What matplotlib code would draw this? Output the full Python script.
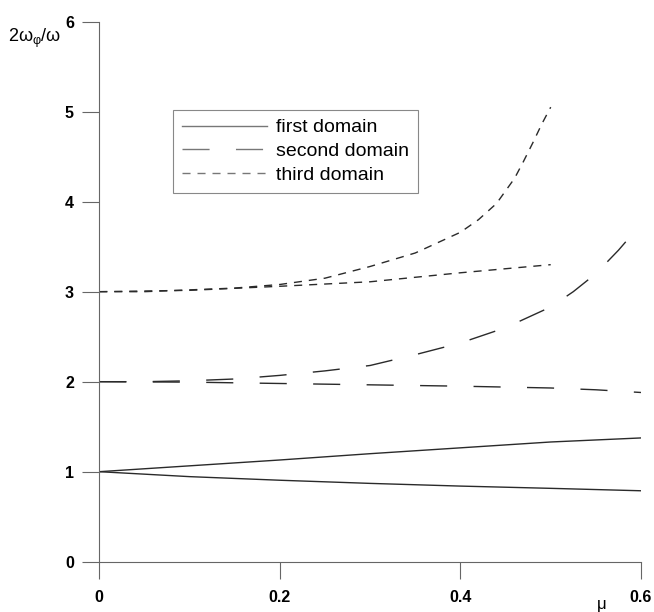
import matplotlib

matplotlib.use("Agg")
import matplotlib.pyplot as plt
from matplotlib.lines import Line2D

plt.rcParams["font.family"] = ["Liberation Sans", "DejaVu Sans"]
plt.rcParams["mathtext.fontset"] = "custom"
plt.rcParams["mathtext.rm"] = "Liberation Sans"
plt.rcParams["mathtext.it"] = "Liberation Sans"

# first domain (two branches from 1)
first_mu = [0.0, 0.1, 0.2, 0.3, 0.4, 0.5, 0.6]
first_upper = [1.0, 1.065, 1.13, 1.20, 1.265, 1.33, 1.375]
first_lower = [1.0, 0.945, 0.905, 0.87, 0.84, 0.815, 0.788]

# second domain (two branches from 2)
second_up_mu = [0.0, 0.05, 0.1, 0.15, 0.2, 0.25, 0.3, 0.35, 0.4, 0.45, 0.5,
                0.525, 0.55, 0.575, 0.6]
second_upper = [2.0, 2.0, 2.01, 2.03, 2.07, 2.12, 2.18, 2.30, 2.43, 2.60, 2.83,
                3.0, 3.2, 3.46, 3.75]
second_lo_mu = [0.0, 0.1, 0.2, 0.3, 0.4, 0.5, 0.55, 0.6]
second_lower = [2.0, 1.995, 1.98, 1.965, 1.95, 1.93, 1.91, 1.88]

# third domain (two branches from 3)
third_up_mu = [0.0, 0.05, 0.1, 0.15, 0.2, 0.25, 0.3, 0.35, 0.4, 0.42, 0.44,
               0.46, 0.47, 0.48, 0.49, 0.5]
third_upper = [3.0, 3.0, 3.02, 3.04, 3.08, 3.15, 3.28, 3.43, 3.66, 3.80, 3.98,
               4.26, 4.45, 4.65, 4.86, 5.05]
third_lo_mu = [0.0, 0.1, 0.2, 0.3, 0.4, 0.5]
third_lower = [3.0, 3.015, 3.06, 3.11, 3.21, 3.30]

labels = ["first domain", "second domain", "third domain"]
x_ticks = [0, 0.2, 0.4, 0.6]
x_ticklabels = ["0", "0.2", "0.4", "0.6"]
y_ticks = [0, 1, 2, 3, 4, 5, 6]

LINE = "#2a2a2a"
AXC = "#666666"
LONG = (19.5, 19.0)
SHORT = (5.8, 5.0)

fig = plt.figure(figsize=(6.54, 6.12), dpi=100)
ax = fig.add_axes([0.1518, 0.0822, 0.8283, 0.8824])

ax.plot(first_mu, first_upper, color=LINE, lw=1.0)
ax.plot(first_mu, first_lower, color=LINE, lw=1.0)
ax.plot(second_up_mu, second_upper, color=LINE, lw=1.0, dashes=LONG)
ax.plot(second_lo_mu, second_lower, color=LINE, lw=1.0, dashes=LONG)
ax.plot(third_up_mu, third_upper, color=LINE, lw=1.0, dashes=SHORT)
ax.plot(third_lo_mu, third_lower, color=LINE, lw=1.0, dashes=SHORT)

ax.set_xlim(0, 0.6)
ax.set_ylim(0, 6)
ax.set_xticks(x_ticks)
ax.set_xticklabels(x_ticklabels)
ax.set_yticks(y_ticks)
for s in ["top", "right"]:
    ax.spines[s].set_visible(False)
for s in ["left", "bottom"]:
    ax.spines[s].set_color(AXC)
    ax.spines[s].set_linewidth(0.8)
ax.tick_params(axis="both", direction="out", length=12.2, width=0.8, color=AXC,
               labelsize=11.5)
ax.tick_params(axis="x", pad=8)
ax.tick_params(axis="y", pad=6)
for lab in ax.get_xticklabels() + ax.get_yticklabels():
    lab.set_fontweight("bold")

handles = [
    Line2D([], [], color="#777777", lw=1.0),
    Line2D([], [], color="#777777", lw=1.0, dashes=LONG),
    Line2D([], [], color="#777777", lw=1.0, dashes=SHORT),
]
leg = ax.legend(handles, labels, loc="upper left",
                bbox_to_anchor=(173 / 654, 1 - 110 / 612),
                bbox_transform=fig.transFigure, borderaxespad=0,
                fontsize=14, handlelength=4.4, handletextpad=0.45,
                labelspacing=0.32, borderpad=0.45, fancybox=False,
                framealpha=1, edgecolor="#888888")
leg.get_frame().set_linewidth(0.8)

fig.text(8 / 654, 1 - 38 / 612, r"$2\omega_{φ}/\omega$", fontsize=13,
         ha="left", va="center")
fig.text(602 / 654, 1 - 604 / 612, "μ", fontsize=12, ha="center", va="center")

fig.savefig("out.png", dpi=100)
